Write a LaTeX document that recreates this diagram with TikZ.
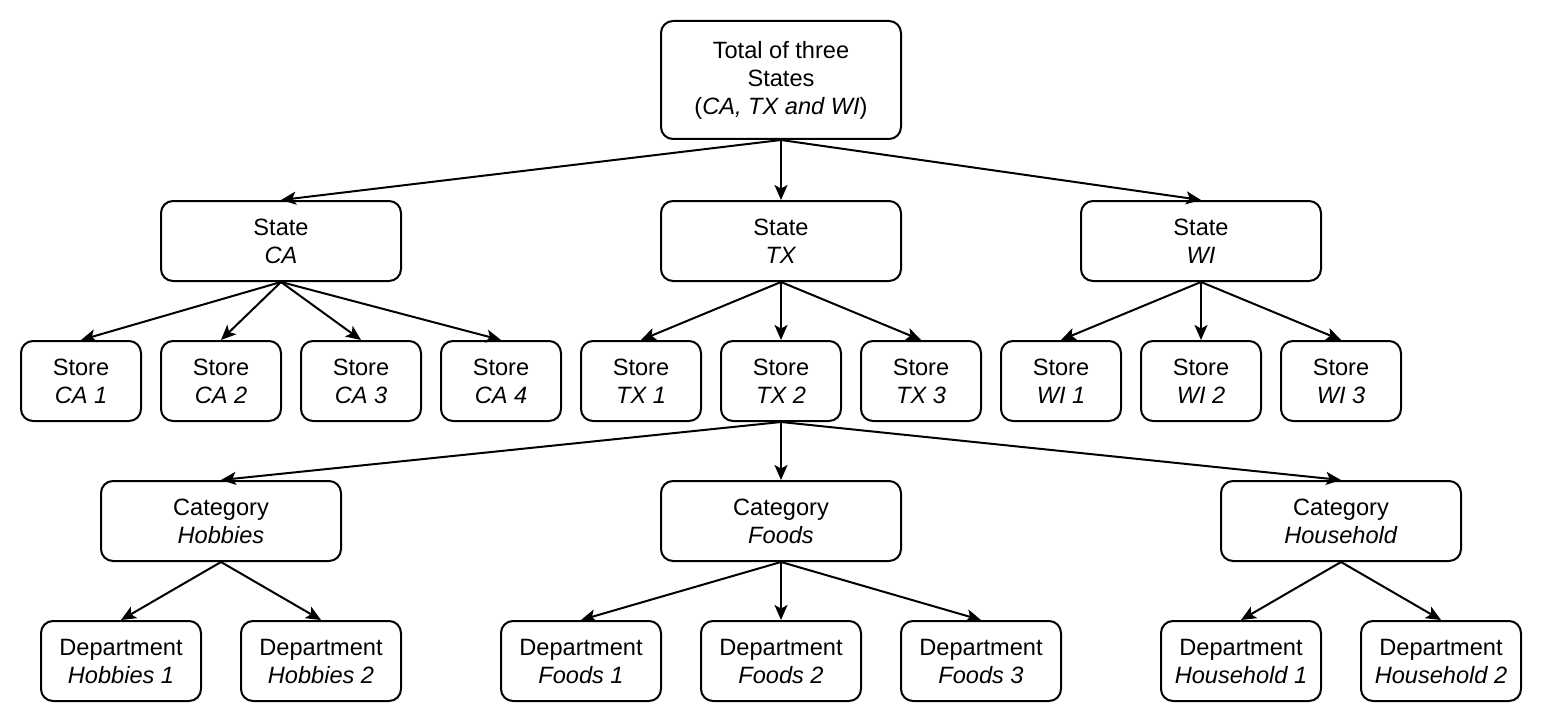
\documentclass[tikz,border=0pt]{standalone}
\usepackage{fontspec}
\setmainfont{Liberation Sans}
\usetikzlibrary{arrows.meta}
\begin{document}
\begin{tikzpicture}[x=0.5pt,y=-0.5pt,
  box/.style={draw,line width=1pt,rounded corners=6pt,align=center,inner sep=0pt,
    font=\fontsize{11.8pt}{14pt}\selectfont,fill=white},
  wide/.style={box,minimum width=120pt,minimum height=40pt},
  small/.style={box,minimum width=60pt,minimum height=40pt},
  dept/.style={box,minimum width=80pt,minimum height=40pt},
  top/.style={box,minimum width=120pt,minimum height=59pt},
  arr/.style={line width=1pt,-{Stealth[length=7.5pt,width=6.5pt,inset=1.8pt]}}]
\useasboundingbox (0,0) rectangle (1542,722);
\node[top] (tot) at (781,80) {Total of three\\States\\(\textit{CA, TX and WI})};
\node[wide] (sca) at (281,241) {State\\\textit{CA}};
\node[wide] (stx) at (781,241) {State\\\textit{TX}};
\node[wide] (swi) at (1201,241) {State\\\textit{WI}};
\node[small] (ca1) at (81,381) {Store\\\textit{CA 1}};
\node[small] (ca2) at (221,381) {Store\\\textit{CA 2}};
\node[small] (ca3) at (361,381) {Store\\\textit{CA 3}};
\node[small] (ca4) at (501,381) {Store\\\textit{CA 4}};
\node[small] (tx1) at (641,381) {Store\\\textit{TX 1}};
\node[small] (tx2) at (781,381) {Store\\\textit{TX 2}};
\node[small] (tx3) at (921,381) {Store\\\textit{TX 3}};
\node[small] (wi1) at (1061,381) {Store\\\textit{WI 1}};
\node[small] (wi2) at (1201,381) {Store\\\textit{WI 2}};
\node[small] (wi3) at (1341,381) {Store\\\textit{WI 3}};
\node[wide] (chob) at (221,521) {Category\\\textit{Hobbies}};
\node[wide] (cfoo) at (781,521) {Category\\\textit{Foods}};
\node[wide] (chou) at (1341,521) {Category\\\textit{Household}};
\node[dept] (h1) at (121,661) {Department\\\textit{Hobbies 1}};
\node[dept] (h2) at (321,661) {Department\\\textit{Hobbies 2}};
\node[dept] (f1) at (581,661) {Department\\\textit{Foods 1}};
\node[dept] (f2) at (781,661) {Department\\\textit{Foods 2}};
\node[dept] (f3) at (981,661) {Department\\\textit{Foods 3}};
\node[dept] (u1) at (1241,661) {Department\\\textit{Household 1}};
\node[dept] (u2) at (1441,661) {Department\\\textit{Household 2}};
\foreach \p/\c in {tot/sca,tot/stx,tot/swi,sca/ca1,sca/ca2,sca/ca3,sca/ca4,stx/tx1,stx/tx2,stx/tx3,swi/wi1,swi/wi2,swi/wi3,tx2/chob,tx2/cfoo,tx2/chou,chob/h1,chob/h2,cfoo/f1,cfoo/f2,cfoo/f3,chou/u1,chou/u2}
  \draw[arr] (\p.south) -- (\c.north);
\end{tikzpicture}
\end{document}
